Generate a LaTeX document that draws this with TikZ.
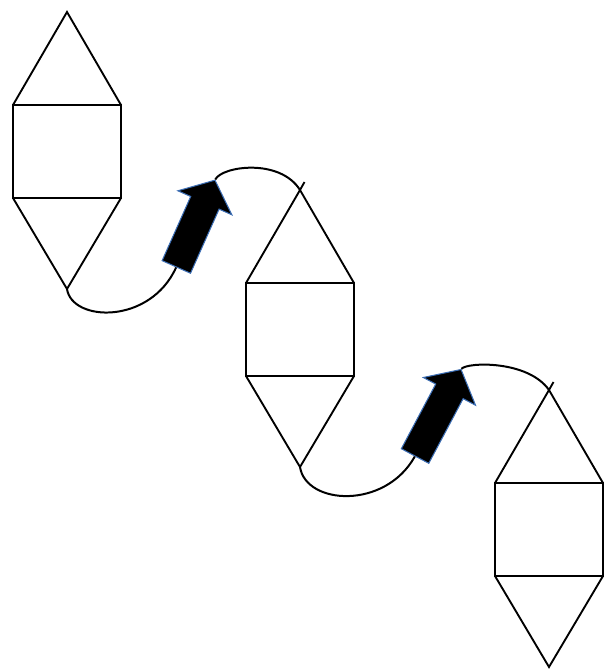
\documentclass[tikz,border=0pt]{standalone}
\usetikzlibrary{shapes.arrows}
\definecolor{glow}{RGB}{60,110,180}
\begin{document}
\begin{tikzpicture}[x=0.03cm,y=-0.03cm,
  unit/.style={black,line width=1.6pt,line join=miter},
  link/.style={black,line width=1.7pt},
  push/.style={single arrow,fill=black,draw=glow,line width=0.9pt,
    inner xsep=0pt,inner ysep=0.45cm,single arrow head extend=0.42cm,
    single arrow tip angle=100,minimum height=2.85cm}]
  \useasboundingbox (0,0) rectangle (606,669);
  \foreach \i/\cx/\ty in {1/67/12,2/300/190,3/549/390} {
    \pgfmathsetmacro{\ra}{\ty+93}
    \pgfmathsetmacro{\rb}{\ty+186}
    \coordinate (top\i) at (\cx,\ty);
    \coordinate (bot\i) at (\cx,\ty+277);
    \draw[unit] (\cx-54,\ra) -- (top\i) -- (\cx+54,\ra);
    \draw[unit] (\cx-54,\ra) rectangle (\cx+54,\rb);
    \draw[unit] (\cx-54,\rb) -- (bot\i) -- (\cx+54,\rb);
  }
  \foreach \i in {2,3}
    \draw[unit] (top\i) -- ++(4.5,-8);
  \node[push,rotate=66] (arr1) at (193,229.5) {};
  \node[push,rotate=62,minimum height=2.94cm] (arr2) at (435,418.5) {};
  \draw[link] (bot1) .. controls (72,322) and (150,325) .. (arr1.tail);
  \draw[link] (arr1.tip) .. controls (222,166) and (280,158) .. (top2);
  \draw[link] (bot2) .. controls (306,505) and (385,510) .. (arr2.tail);
  \draw[link] (arr2.tip) .. controls (467,362) and (528,360) .. (top3);
\end{tikzpicture}
\end{document}
